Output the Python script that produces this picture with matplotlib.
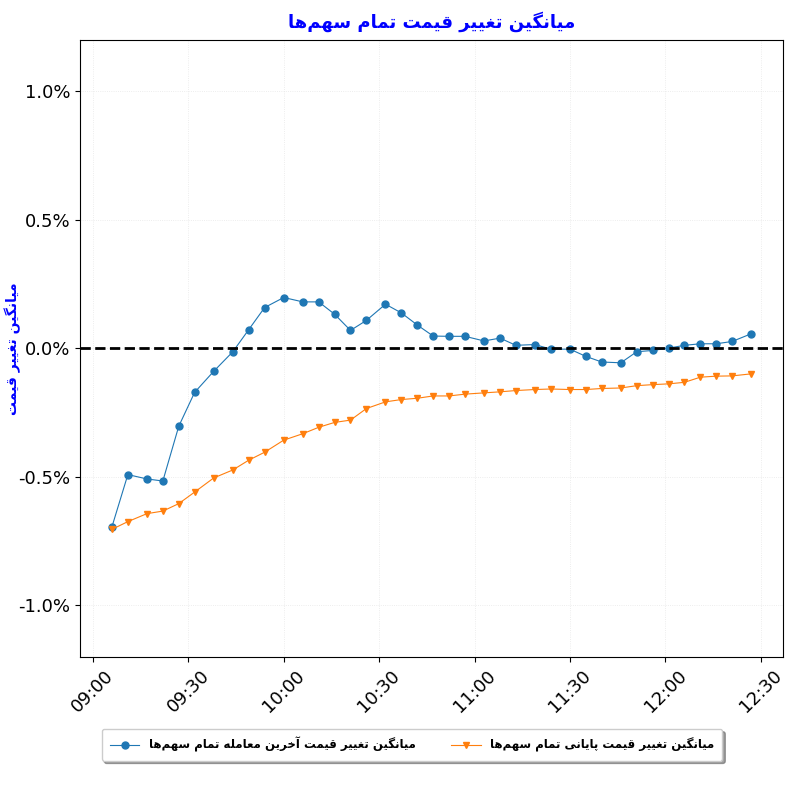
import datetime as dt
import matplotlib
matplotlib.use("Agg")
import matplotlib.pyplot as plt
import matplotlib.dates as mdates
from matplotlib.ticker import FuncFormatter

# زمان نمونه‌ها و مقادیر (درصد)
times = ["09:06", "09:11", "09:17", "09:22", "09:27", "09:32", "09:38", "09:44",
         "09:49", "09:54", "10:00", "10:06", "10:11", "10:16", "10:21", "10:26",
         "10:32", "10:37", "10:42", "10:47", "10:52", "10:57", "11:03", "11:08",
         "11:13", "11:19", "11:24", "11:30", "11:35", "11:40", "11:46", "11:51",
         "11:56", "12:01", "12:06", "12:11", "12:16", "12:21", "12:27"]

last_trade = [-0.694, -0.491, -0.508, -0.516, -0.303, -0.171, -0.089, -0.013,
              0.073, 0.159, 0.198, 0.181, 0.181, 0.133, 0.070, 0.109,
              0.172, 0.138, 0.091, 0.048, 0.047, 0.047, 0.029, 0.040,
              0.012, 0.015, -0.003, -0.003, -0.031, -0.053, -0.056, -0.013,
              -0.008, 0.001, 0.012, 0.018, 0.018, 0.027, 0.057]

closing = [-0.704, -0.674, -0.643, -0.633, -0.604, -0.559, -0.504, -0.473,
           -0.435, -0.404, -0.357, -0.332, -0.307, -0.288, -0.279, -0.234,
           -0.208, -0.199, -0.194, -0.185, -0.185, -0.178, -0.173, -0.169,
           -0.164, -0.160, -0.158, -0.160, -0.160, -0.156, -0.154, -0.145,
           -0.141, -0.138, -0.132, -0.112, -0.108, -0.107, -0.099]

title_txt = "میانگین تغییر قیمت تمام سهم\u200cها"
ylabel_txt = "میانگین تغییر قیمت"
label_last = "میانگین تغییر قیمت آخرین معامله تمام سهم\u200cها"
label_close = "میانگین تغییر قیمت پایانی تمام سهم\u200cها"


# شکل‌دهی ساده‌ی حروف فارسی (matplotlib خودش این کار را نمی‌کند)
FORMS = {
    "\u0627": (0xFE8D, 0xFE8E, None, None),
    "\u0622": (0xFE81, 0xFE82, None, None),
    "\u0631": (0xFEAD, 0xFEAE, None, None),
    "\u062A": (0xFE95, 0xFE96, 0xFE97, 0xFE98),
    "\u062E": (0xFEA5, 0xFEA6, 0xFEA7, 0xFEA8),
    "\u0633": (0xFEB1, 0xFEB2, 0xFEB3, 0xFEB4),
    "\u0639": (0xFEC9, 0xFECA, 0xFECB, 0xFECC),
    "\u063A": (0xFECD, 0xFECE, 0xFECF, 0xFED0),
    "\u0642": (0xFED5, 0xFED6, 0xFED7, 0xFED8),
    "\u0644": (0xFEDD, 0xFEDE, 0xFEDF, 0xFEE0),
    "\u0645": (0xFEE1, 0xFEE2, 0xFEE3, 0xFEE4),
    "\u0646": (0xFEE5, 0xFEE6, 0xFEE7, 0xFEE8),
    "\u0647": (0xFEE9, 0xFEEA, 0xFEEB, 0xFEEC),
    "\u067E": (0xFB56, 0xFB57, 0xFB58, 0xFB59),
    "\u06AF": (0xFB92, 0xFB93, 0xFB94, 0xFB95),
    "\u06CC": (0xFBFC, 0xFBFD, 0xFBFE, 0xFBFF),
}


def fa(text):
    try:
        import arabic_reshaper
        from bidi.algorithm import get_display
        return get_display(arabic_reshaper.reshape(text))
    except ImportError:
        pass
    out = []
    n = len(text)
    for i, ch in enumerate(text):
        if ch == "\u200c":
            continue
        if ch not in FORMS:
            out.append(ch)
            continue
        prev = text[i - 1] if i > 0 else ""
        nxt = text[i + 1] if i + 1 < n else ""
        join_prev = prev in FORMS and FORMS[prev][2] is not None
        join_next = FORMS[ch][2] is not None and nxt in FORMS
        iso, fin, ini, med = FORMS[ch]
        if join_prev and join_next:
            code = med
        elif join_next:
            code = ini
        elif join_prev:
            code = fin
        else:
            code = iso
        out.append(chr(code))
    return "".join(out)[::-1]


day = dt.date(2024, 1, 1)
x = [dt.datetime.combine(day, dt.datetime.strptime(t, "%H:%M").time()) for t in times]

fig, ax = plt.subplots(figsize=(8, 8), dpi=100)
fig.subplots_adjust(left=0.1, right=0.979, top=0.95, bottom=0.179)

ax.plot(x, last_trade, marker="o", markersize=5, linewidth=0.8,
        color="#1f77b4", label=fa(label_last))
ax.plot(x, closing, marker="v", markersize=5, linewidth=0.8,
        color="#ff7f0e", label=fa(label_close))
ax.axhline(0, color="black", linestyle="--", linewidth=2)

ax.set_ylim(-1.2, 1.2)
ax.set_yticks([-1.0, -0.5, 0.0, 0.5, 1.0])
ax.yaxis.set_major_formatter(FuncFormatter(lambda v, p: f"{v:.1f}%"))
ax.xaxis.set_major_locator(mdates.MinuteLocator(byminute=[0, 30]))
ax.xaxis.set_major_formatter(mdates.DateFormatter("%H:%M"))
ax.tick_params(axis="both", labelsize=13)
plt.setp(ax.get_xticklabels(), rotation=45)
ax.grid(True, color="#dddddd", linestyle=":", linewidth=0.6, alpha=0.7)

ax.set_title(fa(title_txt), color="blue", fontsize=13, fontweight="bold", pad=9)
ax.set_ylabel(fa(ylabel_txt), color="blue", fontsize=10, fontweight="bold",
              va="center")
ax.yaxis.set_label_coords(-0.096, 0.5)

fig.legend(loc="center", bbox_to_anchor=(0.515, 0.069), ncol=2, shadow=True,
           fancybox=True, prop={"weight": "bold", "size": 8.5},
           handlelength=2.5, columnspacing=3.0, borderpad=0.7)

fig.savefig("out.png", dpi=100)
